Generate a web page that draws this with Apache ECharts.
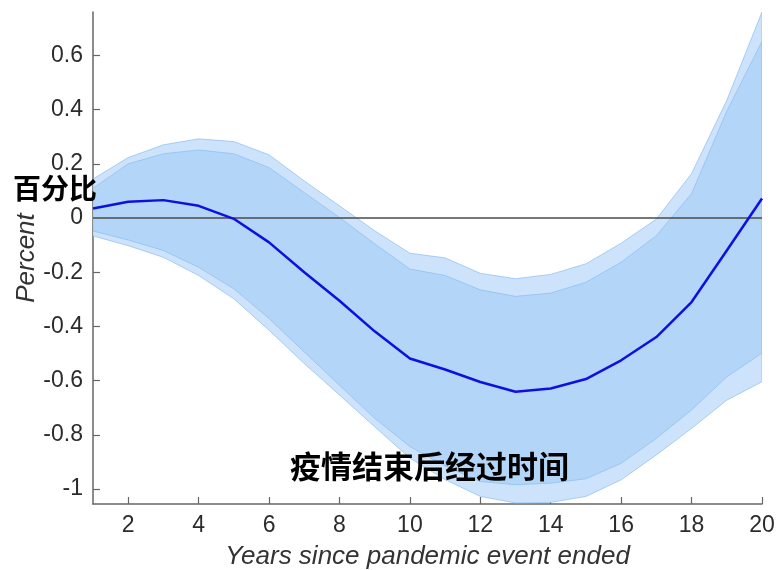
<!DOCTYPE html>
<html>
<head>
<meta charset="utf-8">
<script src="https://cdn.jsdelivr.net/npm/echarts@6/dist/echarts.min.js"></script>
<style>html,body{margin:0;padding:0;background:#fff}#c{width:776px;height:570px}</style>
</head>
<body>
<div id="c"></div>
<script>
const years = [1,2,3,4,5,6,7,8,9,10,11,12,13,14,15,16,17,18,19,20];
const meanVals = [0.035,0.06,0.066,0.045,-0.003,-0.09,-0.2,-0.305,-0.418,-0.518,-0.559,-0.605,-0.641,-0.629,-0.594,-0.525,-0.439,-0.31,-0.12,0.072];
const innerUpper = [0.11,0.2,0.237,0.251,0.237,0.186,0.094,0.002,-0.095,-0.188,-0.212,-0.265,-0.289,-0.277,-0.237,-0.163,-0.065,0.09,0.394,0.652];
const outerUpper = [0.144,0.223,0.27,0.292,0.282,0.233,0.137,0.045,-0.047,-0.13,-0.147,-0.204,-0.224,-0.208,-0.169,-0.093,-0.004,0.164,0.434,0.76];
const innerLower = [-0.048,-0.081,-0.12,-0.182,-0.261,-0.371,-0.494,-0.617,-0.739,-0.843,-0.915,-0.972,-0.984,-0.978,-0.962,-0.905,-0.813,-0.708,-0.586,-0.498];
const outerLower = [-0.066,-0.102,-0.145,-0.212,-0.298,-0.414,-0.537,-0.653,-0.77,-0.886,-0.965,-1.027,-1.051,-1.049,-1.027,-0.966,-0.874,-0.776,-0.672,-0.604];
const xTicks = [2,4,6,8,10,12,14,16,18,20];
const yTicks = [-1,-0.8,-0.6,-0.4,-0.2,0,0.2,0.4,0.6];
const yTitle = 'Percent';
const xTitle = 'Years since pandemic event ended';
const yNote = '百分比';
const xNote = '疫情结束后经过时间';

const FONT = '"Liberation Sans", Arial, Helvetica, sans-serif';
const lightBand = '#cde3fb';
const darkBand = '#b2d5f8';
const edge = 'rgba(140,190,240,0.7)';

function pairs(arr){ return years.map((x,i)=>[x, arr[i]]); }

function bandSeries(lower, upper, fill, z){
  return {
    type:'custom', silent:true, clip:true, z:z,
    data: years.map((x,i)=>[x, lower[i], upper[i]]),
    encode:{x:0, y:[1,2]},
    renderItem:function(params, api){
      if (params.dataIndex !== 0) return null;
      const pts = [];
      for (let i=0;i<years.length;i++) pts.push(api.coord([years[i], upper[i]]));
      for (let i=years.length-1;i>=0;i--) pts.push(api.coord([years[i], lower[i]]));
      return {type:'polygon', shape:{points:pts},
        style:{fill:fill, stroke:edge, lineWidth:1}};
    }
  };
}

const chart = echarts.init(document.getElementById('c'), null, {renderer:'canvas'});
chart.setOption({
  animation:false,
  backgroundColor:'#fff',
  grid:{left:93, right:14, top:12, bottom:66, containLabel:false, outerBoundsMode:'none'},
  xAxis:{
    type:'value', min:1, max:20,
    name:xTitle, nameLocation:'middle', nameGap:40, nameMoveOverlap:false,
    nameTextStyle:{fontFamily:FONT, fontSize:26, fontStyle:'italic', color:'#333'},
    axisLine:{show:true, onZero:false, lineStyle:{color:'#666', width:1.5}},
    axisTick:{show:true, inside:true, length:7, customValues:xTicks, lineStyle:{color:'#666', width:1.2}},
    axisLabel:{customValues:xTicks, fontFamily:FONT, fontSize:23, color:'#2b2b2b', margin:10},
    splitLine:{show:false}
  },
  yAxis:{
    type:'value', min:-1.055, max:0.76,
    name:yTitle, nameLocation:'middle', nameGap:53, nameRotate:90, nameMoveOverlap:false,
    nameTextStyle:{fontFamily:FONT, fontSize:26, fontStyle:'italic', color:'#333'},
    axisLine:{show:true, onZero:false, lineStyle:{color:'#666', width:1.5}},
    axisTick:{show:true, inside:true, length:7, customValues:yTicks, lineStyle:{color:'#666', width:1.2}},
    axisLabel:{customValues:yTicks, fontFamily:FONT, fontSize:23, color:'#2b2b2b', margin:10,
      formatter:v=>String(Math.round(v*10)/10)},
    splitLine:{show:false}
  },
  series:[
    bandSeries(outerLower, outerUpper, lightBand, 1),
    bandSeries(innerLower, innerUpper, darkBand, 2),
    {
      type:'line', name:'mean', data:pairs(meanVals), symbol:'none', z:5,
      lineStyle:{color:'#0f0fe0', width:2.5},
      markLine:{silent:true, symbol:'none', label:{show:false},
        lineStyle:{color:'#4a4a4a', width:1.5, type:'solid'},
        data:[{yAxis:0}]}
    }
  ],
  graphic:[
    {type:'text', left:13, top:174, z:100,
      style:{text:yNote, fontFamily:'"Noto Sans CJK SC", sans-serif', fontSize:28, fontWeight:'bold', fill:'#000'}},
    {type:'text', left:290, top:451, z:100,
      style:{text:xNote, fontFamily:'"Noto Sans CJK SC", sans-serif', fontSize:31, fontWeight:'bold', fill:'#000'}}
  ]
});
</script>
</body>
</html>
